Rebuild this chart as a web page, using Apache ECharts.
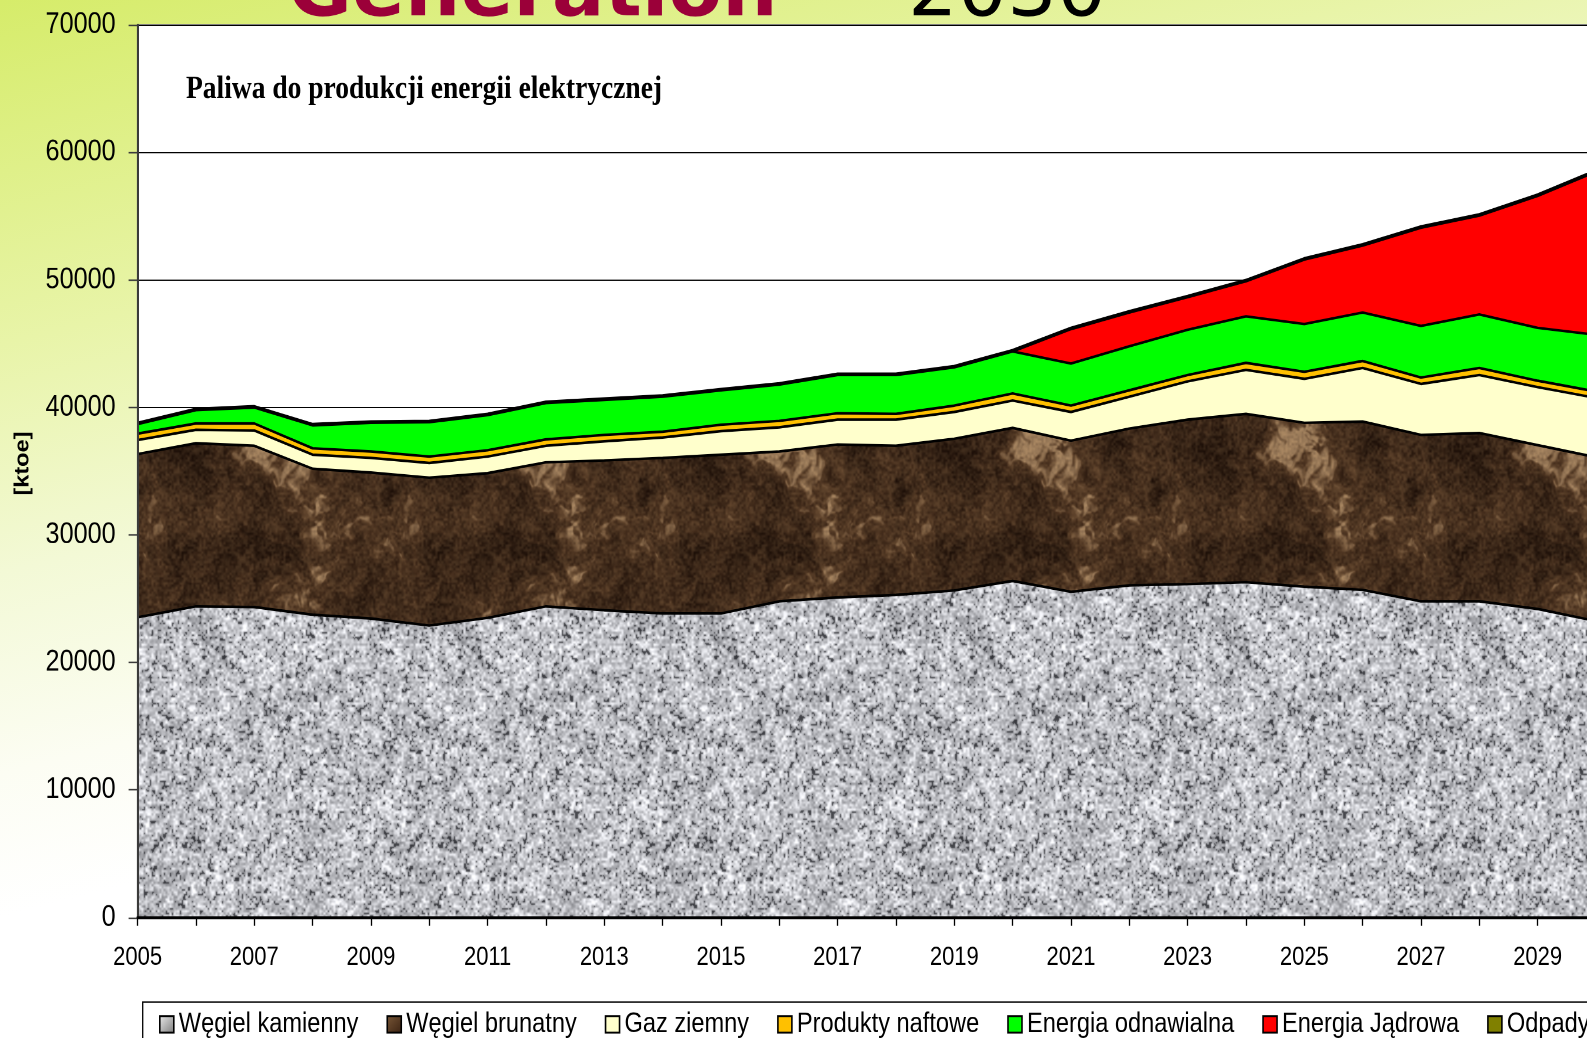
<!DOCTYPE html>
<html>
<head>
<meta charset="utf-8">
<title>Paliwa do produkcji energii elektrycznej</title>
<script src="https://cdn.jsdelivr.net/npm/echarts/dist/echarts.min.js"></script>
<style>
  html, body { margin: 0; padding: 0; width: 1587px; height: 1038px; overflow: hidden; }
  body {
    background: linear-gradient(166deg, #d6ec6a 0%, #e8f4a8 24%, #f3f9d6 40%, #fcfdf3 54%, #ffffff 64%);
  }
  /* the chart is laid out on an 880px tall board and stretched to the full slide height */
  #chart { width: 1587px; height: 880px; transform: scaleY(1.1795454545); transform-origin: 0 0; }
</style>
</head>
<body>
<div id="chart"></div>
<script>
// ---- data (ktoe) ----
const years = ['2005','2006','2007','2008','2009','2010','2011','2012','2013','2014','2015','2016','2017',
               '2018','2019','2020','2021','2022','2023','2024','2025','2026','2027','2028','2029','2030'];

const seriesNames = ['Węgiel kamienny', 'Węgiel brunatny', 'Gaz ziemny', 'Produkty naftowe',
                     'Energia odnawialna', 'Energia Jądrowa', 'Odpady'];

const wegielKamienny = [23550,24400,24350,23750,23450,22900,23500,24400,24100,23850,23850,24800,25100,
                        25300,25650,26400,25550,26050,26150,26300,25950,25700,24800,24800,24200,23250];
const wegielBrunatny = [12800,12800,12650,11450,11450,11600,11350,11300,11750,12200,12450,11750,12000,
                        11700,11900,12000,11850,12300,12900,13200,12850,13200,13050,13200,12850,12850];
const gazZiemny      = [1100,1050,1200,1100,1150,1150,1300,1300,1500,1600,1850,1900,1950,
                        2050,2100,2150,2250,2500,3000,3450,3450,4200,4000,4550,4550,4650];
const produktyNaftowe = [500,500,550,500,500,500,500,500,500,450,500,500,500,
                         450,500,550,500,500,500,550,550,550,500,550,500,500];
const energiaOdnawialna = [750,1050,1250,1800,2250,2700,2750,2850,2750,2750,2700,2850,3000,
                           3050,3000,3300,3300,3450,3550,3650,3750,3800,4050,4200,4150,4450];
const energiaJadrowa = [0,0,0,0,0,0,0,0,0,0,0,0,0,
                        0,0,0,2700,2650,2550,2750,5050,5250,7700,7750,10350,12800];
const odpady = [100,100,100,100,100,100,100,100,100,100,100,100,100,
                100,100,100,100,100,100,100,100,100,100,100,100,100];

const yTicks = { min: 0, max: 70000, step: 10000 };

// ---- layout ----
const S = 1038 / 880;              // vertical stretch of the board
const FONT = '"Liberation Sans", Arial, sans-serif';

// ---- seamless stone textures ----
function hash2(ix, iy, seed) {
  let h = Math.imul(ix, 374761393) ^ Math.imul(iy, 668265263) ^ Math.imul(seed, 1103515245);
  h = Math.imul(h ^ (h >>> 13), 1274126177);
  h ^= h >>> 16;
  h = Math.imul(h ^ (h >>> 15), 2246822519);
  h ^= h >>> 13;
  return (h >>> 0) / 4294967296;
}
function valueNoise(x, y, cell, size, seed) {
  const p = size / cell;
  const gx = x / cell, gy = y / cell;
  const x0 = Math.floor(gx), y0 = Math.floor(gy);
  let fx = gx - x0, fy = gy - y0;
  fx = fx * fx * (3 - 2 * fx);
  fy = fy * fy * (3 - 2 * fy);
  const xa = ((x0 % p) + p) % p, xb = (xa + 1) % p;
  const ya = ((y0 % p) + p) % p, yb = (ya + 1) % p;
  const a = hash2(xa, ya, seed), b = hash2(xb, ya, seed);
  const c = hash2(xa, yb, seed), d = hash2(xb, yb, seed);
  return a + (b - a) * fx + (c - a) * fy + (a - b - c + d) * fx * fy;
}
function clamp(v) { return v < 0 ? 0 : v > 255 ? 255 : v; }
function lerp3(a, b, t) { return [a[0] + (b[0] - a[0]) * t, a[1] + (b[1] - a[1]) * t, a[2] + (b[2] - a[2]) * t]; }
function makeTile(size, shade) {
  const cv = document.createElement('canvas');
  cv.width = cv.height = size;
  const ctx = cv.getContext('2d');
  const img = ctx.createImageData(size, size);
  for (let y = 0; y < size; y++) {
    for (let x = 0; x < size; x++) {
      const c = shade(x, y, size);
      const k = (y * size + x) * 4;
      img.data[k] = clamp(c[0]); img.data[k + 1] = clamp(c[1]); img.data[k + 2] = clamp(c[2]); img.data[k + 3] = 255;
    }
  }
  ctx.putImageData(img, 0, 0);
  return cv;
}
// speckled grey granite
const graniteTile = makeTile(256, (x, y, s) => {
  const fine = valueNoise(x, y, 2, s, 11);
  const mid = valueNoise(x, y, 4, s, 23);
  const coarse = valueNoise(x, y, 16, s, 37);
  let g = 88 + (0.5 * fine + 0.33 * mid + 0.17 * coarse) * 205;
  if (fine < 0.24 && mid < 0.5) g *= 0.5;
  return [g - 2, g - 1, g + 4];
});
// mottled brown marble (domain-warped so the blotches lose the lattice look)
const marbleDark = [44, 28, 17], marbleMid = [84, 58, 37], marbleLight = [156, 124, 90];
const marbleTile = makeTile(256, (x, y, s) => {
  const wx = x + 22 * (valueNoise(x, y, 32, s, 41) - 0.5) + 8 * (valueNoise(x, y, 8, s, 43) - 0.5);
  const wy = y + 22 * (valueNoise(x, y, 32, s, 42) - 0.5) + 8 * (valueNoise(x, y, 8, s, 44) - 0.5);
  const f = 0.34 * valueNoise(wx, wy, 64, s, 5) + 0.28 * valueNoise(wx, wy, 32, s, 6) +
            0.22 * valueNoise(wx, wy, 16, s, 7) + 0.16 * valueNoise(wx, wy, 8, s, 8);
  const fleck = valueNoise(wx, wy, 4, s, 10);
  let v = 0.82 * f + 0.18 * fleck;
  v = Math.max(0, Math.min(1, (v - 0.3) / 0.42));
  const c = v < 0.74 ? lerp3(marbleDark, marbleMid, v / 0.74) : lerp3(marbleMid, marbleLight, (v - 0.74) / 0.26);
  const grain = (valueNoise(x, y, 2, s, 9) - 0.5) * 34;
  return [c[0] + grain, c[1] + grain * 0.85, c[2] + grain * 0.6];
});

const fills = [
  { image: graniteTile, repeat: 'repeat' },
  { image: marbleTile, repeat: 'repeat' },
  '#ffffcc', '#ffc000', '#00ff00', '#ff0000', '#808000'
];
const solidColors = ['#b0b0b4', '#5a3a22', '#ffffcc', '#ffc000', '#00ff00', '#ff0000', '#808000'];
const legendColors = [
  new echarts.graphic.LinearGradient(0, 0, 1, 1, [{ offset: 0, color: '#eeeeee' }, { offset: 1, color: '#7a7a7a' }]),
  new echarts.graphic.LinearGradient(0, 0, 1, 1, [{ offset: 0, color: '#7a5838' }, { offset: 1, color: '#3a2212' }]),
  '#ffffcc', '#ffc000', '#00ff00', '#ff0000', '#808000'
];
const seriesData = [wegielKamienny, wegielBrunatny, gazZiemny, produktyNaftowe,
                    energiaOdnawialna, energiaJadrowa, odpady];

const chart = echarts.init(document.getElementById('chart'), null, { renderer: 'canvas', devicePixelRatio: 2 });

chart.setOption({
  animation: false,
  grid: {
    left: 137.6, top: 25 / S, width: 1458.4, height: (917.5 - 25) / S,
    show: true, backgroundColor: '#ffffff', borderColor: '#808080', borderWidth: 1.5,
    containLabel: false, outerBoundsMode: 'none'
  },
  xAxis: {
    type: 'category', data: years, boundaryGap: false, z: 30,
    axisLine: { show: true, lineStyle: { color: '#000', width: 2.4 } },
    axisTick: { show: true, interval: 0, inside: false, length: 7, lineStyle: { color: '#000', width: 1.3 } },
    axisLabel: { interval: 1, margin: 23.2, fontSize: 22, fontFamily: FONT, color: '#000' },
    splitLine: { show: false }
  },
  yAxis: [
    { // horizontal grid lines, under the areas
      type: 'value', min: yTicks.min, max: yTicks.max, interval: yTicks.step, z: 0,
      axisLine: { show: false }, axisTick: { show: false }, axisLabel: { show: false },
      splitLine: { show: true, lineStyle: { color: '#000', width: 1 } }
    },
    { // axis line, ticks and labels, above the areas
      type: 'value', min: yTicks.min, max: yTicks.max, interval: yTicks.step, position: 'left', offset: 0, z: 30,
      axisLine: { show: true, lineStyle: { color: '#3a3a3a', width: 2 } },
      axisTick: { show: true, inside: false, length: 9, lineStyle: { color: '#3a3a3a', width: 1.3 } },
      axisLabel: { margin: 22, fontSize: 25.2, fontFamily: FONT, color: '#000', formatter: v => String(v) },
      splitLine: { show: false }
    }
  ],
  legend: {
    show: true, left: 159, top: 1018.5 / S - 7, width: 1700, padding: 0,
    orient: 'horizontal', itemGap: 28, itemWidth: 14, itemHeight: 14, icon: 'rect',
    selectedMode: false, z: 10,
    itemStyle: { borderColor: '#000', borderWidth: 1.6 },
    textStyle: { fontSize: 23.6, fontFamily: FONT, color: '#000' },
    data: seriesNames.map((n, i) => ({ name: n, icon: 'rect', itemStyle: { color: legendColors[i], borderColor: '#000', borderWidth: 1.6 } }))
  },
  series: seriesNames.map((n, i) => ({
    name: n, type: 'line', stack: 'paliwa', data: seriesData[i], yAxisIndex: 0,
    symbol: 'none', showSymbol: false, silent: true,
    z: 20 - i,   // lower layers drawn last so every boundary line stays whole
    lineStyle: { color: '#000', width: 2.2 },
    itemStyle: { color: solidColors[i] },
    areaStyle: { color: fills[i], opacity: 1 },
    emphasis: { disabled: true }
  })),
  graphic: {
    elements: [
      { // legend frame
        type: 'rect', z: 1, silent: true,
        shape: { x: 142.7, y: 1002 / S, width: 1600, height: 200 },
        style: { fill: '#ffffff', stroke: '#000', lineWidth: 1.3 }
      },
      {
        type: 'text', z: 40, x: 186, y: 75.7, silent: true,
        style: { text: 'Paliwa do produkcji energii elektrycznej', font: 'bold 27.5px "Liberation Serif", "Times New Roman", serif',
                 fill: '#000', align: 'left', verticalAlign: 'middle', textAlign: 'left', textVerticalAlign: 'middle' }
      },
      {
        type: 'text', z: 40, x: 23, y: 463.5 / S, rotation: Math.PI / 2, silent: true,
        style: { text: '[ktoe]', font: 'bold 20px ' + FONT, fill: '#000',
                 align: 'center', verticalAlign: 'middle', textAlign: 'center', textVerticalAlign: 'middle' }
      },
      { // slide heading, kept at its natural proportions
        type: 'text', z: 50, x: 288, y: -5 / S, scaleY: 1 / S, silent: true,
        style: { text: 'Generation', font: 'bold 78px "DejaVu Sans", Verdana, sans-serif', fill: '#9b0039',
                 align: 'left', verticalAlign: 'middle', textAlign: 'left', textVerticalAlign: 'middle' }
      },
      {
        type: 'text', z: 50, x: 908, y: -5 / S, scaleY: 1 / S, silent: true,
        style: { text: '2030', font: '78px "DejaVu Sans", Verdana, sans-serif', fill: '#000',
                 align: 'left', verticalAlign: 'middle', textAlign: 'left', textVerticalAlign: 'middle' }
      }
    ]
  }
});
</script>
</body>
</html>
